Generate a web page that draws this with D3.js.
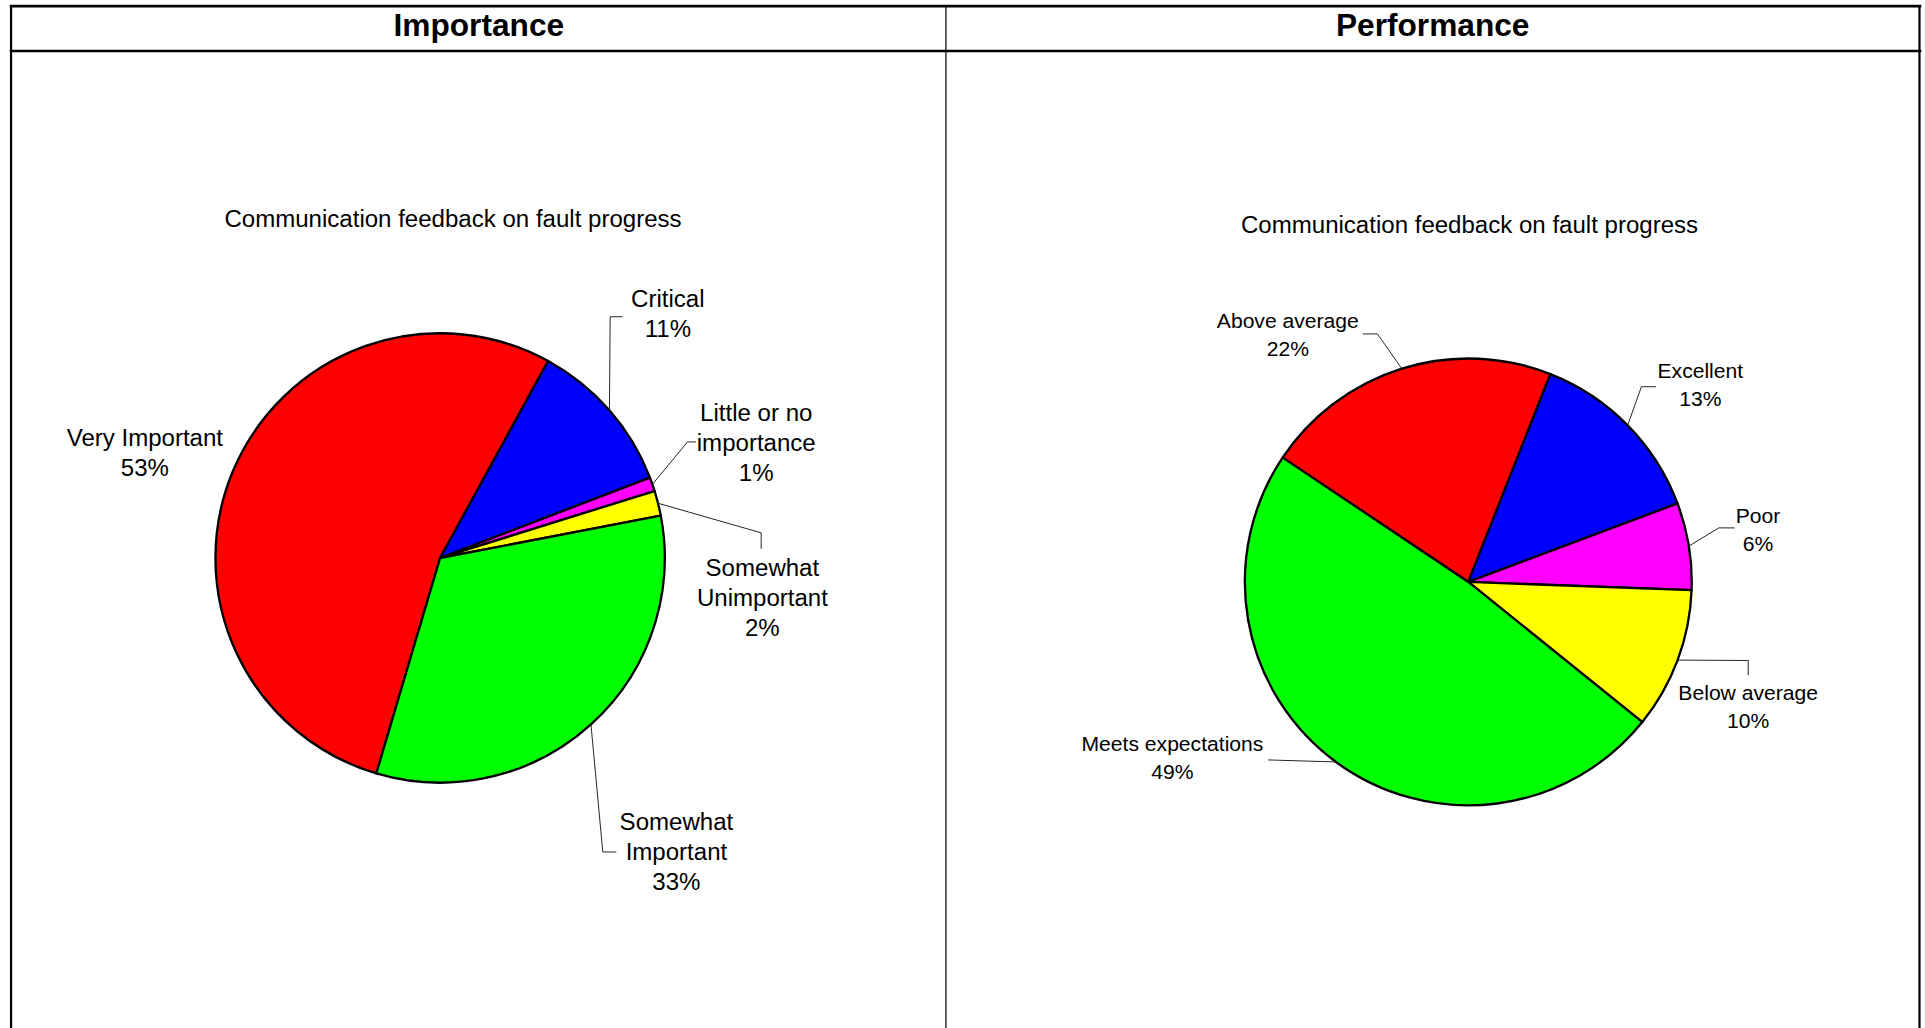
<!DOCTYPE html>
<html><head><meta charset="utf-8">
<script src="https://cdn.jsdelivr.net/npm/d3@7"></script>
<style>html,body{margin:0;padding:0;background:#fff;}svg{display:block;font-family:"Liberation Sans",Arial,sans-serif;}</style>
</head><body>
<script>
// ---- data ----
const panelTitles = ["Importance", "Performance"];
const chartTitle = "Communication feedback on fault progress";

const importanceCategories = [["Very Important"], ["Critical"], ["Little or no", "importance"], ["Somewhat", "Unimportant"], ["Somewhat", "Important"]];
const importanceValues = [53.4, 11.2, 1.0, 1.8, 32.6];
const importanceColors = ["#FF0000", "#0000FF", "#FF00FF", "#FFFF00", "#00FF00"];

const performanceCategories = [["Above average"], ["Excellent"], ["Poor"], ["Below average"], ["Meets expectations"]];
const performanceValues = [21.6, 13.3, 6.3, 10.2, 48.6];
const performanceColors = ["#FF0000", "#0000FF", "#FF00FF", "#FFFF00", "#00FF00"];

// ---- layout (in reference-preview units, scaled to full size) ----
const S = 1925 / 1568;
const W = 1925, H = 1028;

const svg = d3.select("body").append("svg").attr("width", W).attr("height", H);
const g = svg.append("g").attr("transform", `scale(${S})`);

// table frame
g.append("line").attr("x1", 8).attr("x2", 1565).attr("y1", 5).attr("y2", 5).attr("stroke", "#000").attr("stroke-width", 2.4);
g.append("line").attr("x1", 8).attr("x2", 1565).attr("y1", 41.5).attr("y2", 41.5).attr("stroke", "#000").attr("stroke-width", 2);
g.append("line").attr("x1", 9).attr("x2", 9).attr("y1", 4).attr("y2", 840).attr("stroke", "#000").attr("stroke-width", 1.8);
g.append("line").attr("x1", 770.5).attr("x2", 770.5).attr("y1", 4).attr("y2", 840).attr("stroke", "#000").attr("stroke-width", 1);
g.append("line").attr("x1", 1563.5).attr("x2", 1563.5).attr("y1", 4).attr("y2", 840).attr("stroke", "#000").attr("stroke-width", 1.8);

const headerX = [390, 1167];
panelTitles.forEach((t, i) => {
  g.append("text").attr("x", headerX[i]).attr("y", 20.5).attr("text-anchor", "middle")
    .attr("dominant-baseline", "central").attr("font-weight", "bold").attr("font-size", 25.8).text(t);
});

function drawPie(cfg) {
  const total = d3.sum(cfg.values);
  const start = cfg.startDeg * Math.PI / 180;
  const pie = d3.pie().sort(null).value(d => d).startAngle(start).endAngle(start + 2 * Math.PI);
  const arcs = pie(cfg.values);
  const arc = d3.arc().innerRadius(0).outerRadius(cfg.r);
  const edge = d3.arc().innerRadius(cfg.r).outerRadius(cfg.r);
  const color = d3.scaleOrdinal().domain(d3.range(cfg.values.length)).range(cfg.colors);

  g.append("text").attr("x", cfg.titleX).attr("y", cfg.titleY).attr("text-anchor", "middle")
    .attr("dominant-baseline", "central").attr("font-size", 19.6).text(chartTitle);

  const pg = g.append("g").attr("transform", `translate(${cfg.cx},${cfg.cy})`);
  pg.selectAll("path").data(arcs).join("path")
    .attr("d", arc).attr("fill", (d, i) => color(i))
    .attr("stroke", "#000").attr("stroke-width", 1.9).attr("stroke-linejoin", "round");

  arcs.forEach((d, i) => {
    const L = cfg.labels[i];
    const c = edge.centroid(d);
    if (L.leader) {
      const pts = [[cfg.cx + c[0], cfg.cy + c[1]], ...L.leader];
      g.append("path").attr("d", d3.line()(pts)).attr("fill", "none")
        .attr("stroke", "#222").attr("stroke-width", 0.8);
    }
    const lines = cfg.categories[i].concat([Math.round(d.value * 100 / total) + "%"]);
    const t = g.append("text").attr("text-anchor", "middle").attr("font-size", cfg.fontSize);
    lines.forEach((s, k) => {
      t.append("tspan").attr("x", L.x).attr("y", L.y + k * cfg.lineH).attr("dominant-baseline", "central").text(s);
    });
  });
}

drawPie({
  values: importanceValues, categories: importanceCategories, colors: importanceColors,
  cx: 358.5, cy: 454.5, r: 183, startDeg: 196.5, titleX: 369, titleY: 178,
  fontSize: 19.6, lineH: 24.5,
  labels: [
    { x: 118, y: 356 },
    { x: 544, y: 243, leader: [[497, 258], [507, 258]] },
    { x: 616, y: 336, leader: [[560, 360], [567, 360]] },
    { x: 621, y: 462, leader: [[620, 434], [620, 447]] },
    { x: 551, y: 669, leader: [[491, 694], [502, 694]] }
  ]
});

drawPie({
  values: performanceValues, categories: performanceCategories, colors: performanceColors,
  cx: 1196, cy: 474, r: 182, startDeg: -56.2, titleX: 1197, titleY: 183,
  fontSize: 17.2, lineH: 22.5,
  labels: [
    { x: 1049, y: 261, leader: [[1122, 272], [1110, 272]] },
    { x: 1385, y: 302, leader: [[1337, 315], [1349, 315]] },
    { x: 1432, y: 420, leader: [[1400, 430], [1413, 430]] },
    { x: 1424, y: 564, leader: [[1424, 538], [1424, 550]] },
    { x: 955, y: 606, leader: [[1033, 619]] }
  ]
});
</script>
</body></html>
